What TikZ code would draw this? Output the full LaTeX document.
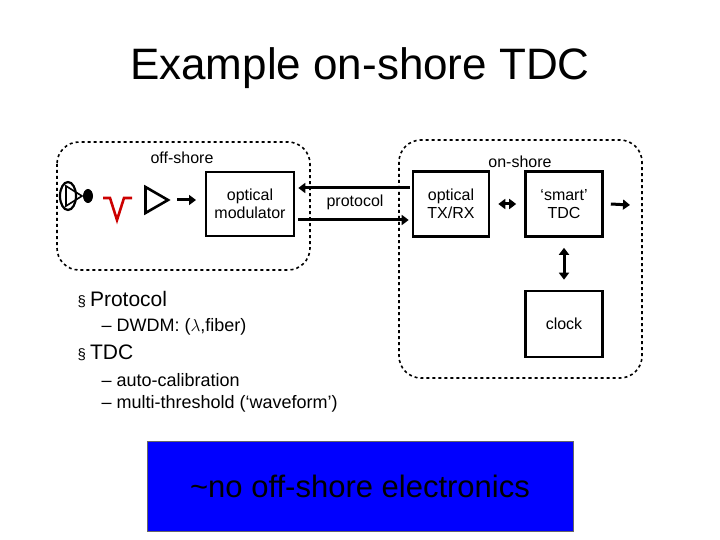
\documentclass[tikz,border=0pt]{standalone}
\usepackage{fontspec}
\setmainfont{Liberation Sans}
\usetikzlibrary{arrows.meta,shapes.geometric}
\begin{document}
\begin{tikzpicture}[x=1pt,y=-1pt,
  blk/.style={draw,line width=2.6pt,align=center,font=\fontsize{16}{18}\selectfont,inner sep=0pt},
  region/.style={draw,dashed,line width=1.6pt,rounded corners=22pt},
  arr/.style={line width=3pt,-{Triangle[length=7pt,width=10pt]}},
  darr/.style={line width=3pt,{Triangle[length=7pt,width=10pt]}-{Triangle[length=7pt,width=10pt]}},
  lbl/.style={font=\fontsize{16}{18}\selectfont,inner sep=0pt}]
\useasboundingbox (0,0) rectangle (720,540);
\node[font=\fontsize{44}{50}\selectfont] (title) at (360,68) {Example on-shore TDC};
% regions
\draw[region] (57,142) rectangle (310,270);
\draw[region] (399,140) rectangle (642,378);
\node[lbl] (off) at (182,158) {off-shore};
\node[lbl] (on) at (520,162) {on-shore};
% boxes
\node[blk,minimum width=88pt,minimum height=64pt] (mod) at (250,204) {optical\\modulator};
\node[blk,minimum width=76pt,minimum height=65pt] (txrx) at (451,204) {optical\\TX/RX};
\node[blk,minimum width=77pt,minimum height=65pt] (tdc) at (564,204) {`smart'\\TDC};
\node[blk,minimum width=77pt,minimum height=66pt] (clk) at (564,324) {clock};
\node[lbl] (proto) at (355,202) {protocol};
% protocol lines
\draw[arr] (txrx.west|-0,188) ++(-2,0) -- ([xshift=3pt]mod.east|-0,188);
\draw[arr] ([xshift=3pt]mod.east|-0,220) -- ([xshift=-3pt]txrx.west|-0,220);
\draw[darr] ([xshift=8pt]txrx.east) -- ([xshift=-8pt]tdc.west);
\coordinate (out) at (630,205);
\draw[arr] ([xshift=7pt]tdc.east) -- (out);
\draw[darr] ([yshift=-10pt]tdc.south) -- ([yshift=10pt]clk.north);
% detector chain
\draw[line width=2.2pt] (68,196) ellipse (8pt and 14pt);
\draw[line width=1.6pt] (66,186) -- (82,196) -- (66,206) -- cycle;
\fill (88,196) ellipse (5pt and 7pt);
\draw[red!80!black,line width=2.6pt] (103,198) -- (110,198) -- (117,220) -- (124,198) -- (132,198);
\node[draw,line width=2.6pt,regular polygon,regular polygon sides=3,shape border rotate=-90,minimum size=30pt,inner sep=0pt] (amp) at (153,200) {};
\coordinate (ampout) at (196,200);
\draw[arr] (177,200) -- (ampout);
% bullets
\node[anchor=west,font=\fontsize{21}{24}\selectfont] (b1) at (74,300) {\fontsize{15}{16}\selectfont\S\ \fontsize{21}{24}\selectfont Protocol};
\node[anchor=west,font=\fontsize{18}{20}\selectfont] (b1a) at (98,327) {-- DWDM: ($\lambda$,fiber)};
\node[anchor=west,font=\fontsize{21}{24}\selectfont] (b2) at (74,353) {\fontsize{15}{16}\selectfont\S\ \fontsize{21}{24}\selectfont TDC};
\node[anchor=west,font=\fontsize{18}{20}\selectfont] (b2a) at (98,380) {-- auto-calibration};
\node[anchor=west,font=\fontsize{18}{20}\selectfont] (b2b) at (98,404) {-- multi-threshold (`waveform')};
% blue box
\node[fill={rgb,255:red,0;green,0;blue,255},draw=black!60,minimum width=426pt,minimum height=90pt,text=black,font=\fontsize{31}{36}\selectfont] (blue) at (360,486) {\textasciitilde no off-shore electronics};
\end{tikzpicture}
\end{document}
